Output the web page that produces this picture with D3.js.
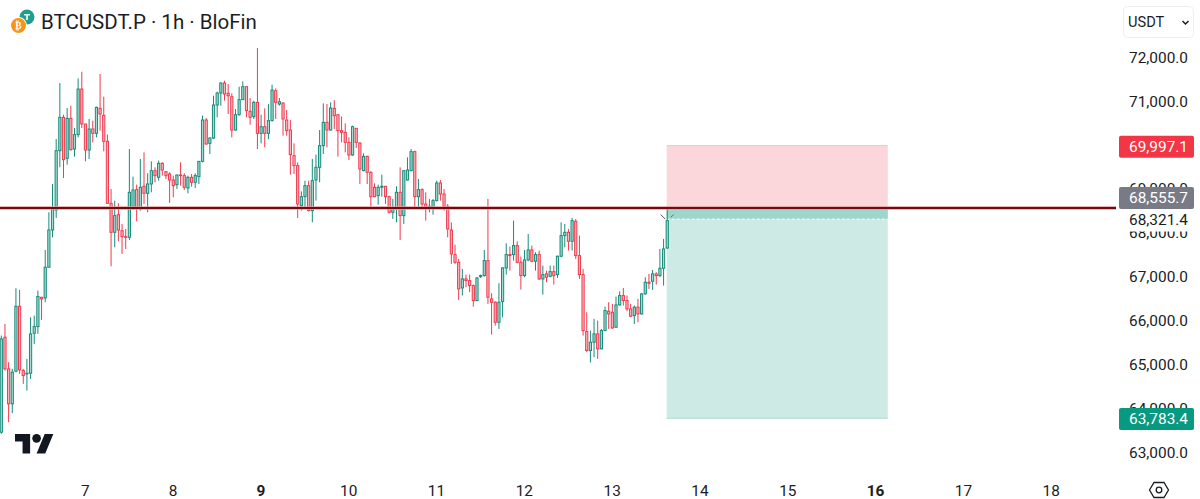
<!DOCTYPE html>
<html>
<head>
<meta charset="utf-8">
<script src="https://cdn.jsdelivr.net/npm/d3@7"></script>
<style>
  html, body { margin: 0; padding: 0; background: #fff; overflow: hidden; }
  svg { display: block; font-family: Roboto, sans-serif; }
</style>
</head>
<body>
<div id="chart"></div>
<script>
// hourly candles, oldest first
const opens = [63465,65629,64908,64111,64855,66335,64870,64794,64809,65720,65872,66540,66525,67224,68074,68530,69881,70641,69707,70618,69919,70246,71286,70489,69897,70375,70276,70846,70686,70094,68682,68021,68423,68059,67922,67907,68553,68993,68553,69069,68909,69122,69426,69274,69593,69403,69350,69213,69107,69327,69312,69031,69274,69160,69289,69638,70580,70048,70170,70922,71195,71423,71187,
71111,70352,70701,71043,71339,70777,70656,70982,70276,70428,70276,70565,71248,70944,70967,70580,70352,69767,69540,68628,68833,69084,68515,69213,69502,69995,70527,70352,70846,70701,70337,70299,70071,69783,70390,70056,69426,69752,69388,69046,68856,69046,69069,68833,68477,68553,68932,68401,69213,69426,69859,68833,68993,68666,68568,68590,68742,69145,68894,68613,
68074,67513,67338,66753,66958,66920,66806,66465,67011,67034,67376,66503,66427,65971,66442,67209,67513,67513,67718,67338,67034,67391,67619,67361,67513,66958,67072,67019,67125,67057,67475,67945,68021,67816,68272,67490,67057,65759,65326,65516,65705,65364,65781,66222,66199,65857,66366,66579,66465,66275,66123,66313,66161,66617,66882,66905,67072,67034,67201,67664];
const highs = [65667,65933,65060,64908,66745,66707,64908,65136,66085,66123,66692,66540,67619,68477,69122,70147,71423,70701,70853,70906,70398,71529,71681,70489,70603,70565,70884,71628,71111,70246,69008,68742,68682,68211,68097,69919,69289,69107,69692,69843,69365,69638,69502,69654,69616,69411,69388,69312,69335,69616,69365,69312,69350,69365,69638,70679,70625,70185,71134,71225,71438,71476,71400,
71187,70830,71339,71461,71339,71081,71020,72220,70701,70846,70944,71385,71301,71081,70982,70808,70580,70048,69616,68955,69198,69198,69692,69790,70352,70960,70944,70982,71035,70701,70656,70504,70185,70451,70398,70071,69821,69767,69411,69137,69107,69335,69069,68856,68780,69069,69502,69426,69730,69919,69881,69236,69023,68932,68780,68780,69198,69213,69008,68666,
68249,67740,67414,67186,67057,67057,66829,66996,67057,67619,68781,66632,66450,66860,67224,67771,67695,68287,67816,67467,67619,67983,67718,67566,67604,67262,67148,67262,67262,67490,68249,68211,68097,68348,68325,67945,67186,66199,65781,66047,66009,65819,66328,66427,66389,66556,66677,66753,66579,66389,66351,66503,66632,66996,67072,67163,67110,67642,67869,68553];
const lows = [63427,64870,63693,63898,64832,64794,64566,64414,64680,65477,65705,66024,66426,67224,67907,68348,69502,69259,69562,69881,69745,70185,70398,69638,69692,70071,70185,70337,69866,68666,67247,67679,67816,67527,67641,67846,68553,68272,68515,68666,68477,68932,69160,69198,69312,69236,68689,68818,69008,69084,68985,68909,69061,69031,69122,69616,70018,69805,70147,70641,70906,71020,70717,
70185,70337,70679,71035,70641,70474,70603,69919,70048,69957,70147,70549,70603,70906,70223,70223,69335,69350,68348,68515,68590,68499,68249,68742,69160,69805,69957,70337,70375,69745,70071,69843,69669,69767,69942,69122,69411,69122,68590,68818,68651,68833,68666,68454,68325,68249,67846,68211,69198,69411,68553,68590,68553,68287,68477,68423,68727,68742,68515,67907,
67300,67300,66480,66579,66768,66655,66328,66450,66981,67011,66389,65690,65895,65819,66085,67057,67148,67376,67315,66715,66996,67361,67338,67148,66935,66601,66882,66996,66829,66981,67452,67680,67604,67604,67414,66958,65667,65288,65052,65174,65136,65356,65766,65819,65819,65842,66351,66351,66222,66085,65933,65971,66146,66601,66730,66708,66829,66996,66806,67642];
const closes = [65591,64908,64111,64832,66335,64885,64756,64809,65705,65872,66556,66502,67224,68074,68553,69881,70641,69676,70618,69904,70246,71286,70489,69897,70375,70276,70868,70717,70094,68682,68021,68401,68074,67922,67907,68932,68985,68568,69046,68909,69122,69426,69312,69593,69441,69312,69213,69084,69327,69312,69046,69274,69160,69312,69638,70580,70033,70170,70922,71195,71423,71172,71134,
70352,70701,71043,71339,70793,70641,70982,70276,70428,70276,70565,71263,70982,70997,70603,70337,69790,69540,68666,68833,69084,68515,69198,69502,69995,70527,70352,70853,70679,70337,70299,70071,69783,70428,70071,69464,69752,69388,68833,68833,69046,69069,68833,68477,68553,68932,68401,69426,69441,69859,68833,68993,68666,68606,68613,68742,69145,68894,68613,68097,
67528,67338,66730,66958,66920,66806,66465,66981,67034,67376,66541,66427,65971,66427,67209,67513,67490,67718,67338,67034,67391,67619,67361,67513,66958,67057,66996,67125,67034,67475,67945,68021,67816,68287,67490,67057,65781,65326,65516,65705,65364,65781,66237,66161,65842,66366,66579,66465,66275,66108,66313,66161,66617,66882,66860,67072,67034,67201,67642,68287];

const priceTicks = [72000,71000,70000,69000,68000,67000,66000,65000,64000,63000];
const dayLabels = [7,8,9,10,11,12,13,14,15,16,17,18];
const boldDays = [9,16];
const firstDayCandle = 23; // candle index of the "7" tick
const hoursPerDay = 24;

const horizontalLevel = 68575;
const stopPrice = 69997.1;
const entryPrice = 68555.7;
const lastPrice = 68321.4;
const targetPrice = 63783.4;
const positionStart = 182;
const positionEnd = 242.4;

const width = 1200, height = 499;
const paneRight = 1116;

const x = d3.scaleLinear().domain([0, 100]).range([1.3, 367.2]);
const y = d3.scaleLinear().domain([63000, 72000]).range([452.6, 57.7]);

const green = "#178b7a", greenFill = "#a3dcd2";
const red = "#ee3a4e", redFill = "#fbb7be";
const text = "#1a1d26";

const candles = opens.map((o, i) => ({ i, o, h: highs[i], l: lows[i], c: closes[i] }));

const svg = d3.select("#chart").append("svg")
    .attr("width", width)
    .attr("height", height);

svg.append("rect").attr("width", width).attr("height", height).attr("fill", "#fff");

// long position box
const box = svg.append("g");
const boxX = x(positionStart) - 0.5;
const boxW = x(positionEnd) - x(positionStart);

box.append("rect")
    .attr("x", boxX).attr("y", y(stopPrice))
    .attr("width", boxW).attr("height", y(entryPrice) - y(stopPrice))
    .attr("fill", "#fbd6da");
box.append("rect")
    .attr("x", boxX).attr("y", y(entryPrice))
    .attr("width", boxW).attr("height", y(targetPrice) - y(entryPrice))
    .attr("fill", "#cdeae4");
box.append("rect")
    .attr("x", boxX).attr("y", y(entryPrice))
    .attr("width", boxW).attr("height", y(lastPrice) - y(entryPrice))
    .attr("fill", "#9dd6cd");
box.append("line")
    .attr("x1", boxX).attr("x2", boxX + boxW)
    .attr("y1", y(stopPrice)).attr("y2", y(stopPrice))
    .attr("stroke", "#f7c3c9");
box.append("line")
    .attr("x1", boxX).attr("x2", boxX + boxW)
    .attr("y1", y(targetPrice)).attr("y2", y(targetPrice))
    .attr("stroke", "#a9dcd2");
box.append("line")
    .attr("x1", boxX).attr("x2", boxX + boxW)
    .attr("y1", y(lastPrice)).attr("y2", y(lastPrice))
    .attr("stroke", "#fff")
    .attr("stroke-dasharray", "3 2");

// candles
const candle = svg.append("g").selectAll("g")
    .data(candles)
    .join("g")
    .attr("stroke", d => d.c >= d.o ? green : red);

candle.append("line")
    .attr("x1", d => x(d.i)).attr("x2", d => x(d.i))
    .attr("y1", d => y(d.h)).attr("y2", d => y(d.l));

candle.append("rect")
    .attr("x", d => x(d.i) - 1.1)
    .attr("width", 2.2)
    .attr("y", d => y(Math.max(d.o, d.c)))
    .attr("height", d => Math.max(0.6, Math.abs(y(d.o) - y(d.c))))
    .attr("fill", d => d.c >= d.o ? greenFill : redFill);

// small arrows next to the last candle
const lastX = x(positionStart), lastY = y(lastPrice);
svg.append("path")
    .attr("d", `M${lastX - 6.5},${lastY - 4.5}L${lastX - 2},${lastY}`)
    .attr("fill", "none")
    .attr("stroke", "#4b525e");
svg.append("path")
    .attr("d", `M${lastX + 3.5},${lastY - 2}L${lastX + 6.5},${lastY - 4.5}`)
    .attr("fill", "none")
    .attr("stroke", "#5f7f80");

// horizontal line
svg.append("line")
    .attr("x1", 0).attr("x2", paneRight)
    .attr("y1", y(horizontalLevel)).attr("y2", y(horizontalLevel))
    .attr("stroke", "#e39a9c").attr("stroke-width", 3.6);
svg.append("line")
    .attr("x1", 0).attr("x2", paneRight)
    .attr("y1", y(horizontalLevel)).attr("y2", y(horizontalLevel))
    .attr("stroke", "#730a10").attr("stroke-width", 2.2);

// price scale
const yAxis = d3.axisRight(y)
    .tickValues(priceTicks)
    .tickFormat(d3.format(",.1f"))
    .tickSize(0);

const yGroup = svg.append("g")
    .attr("transform", "translate(1188,-0.4)")
    .call(yAxis);
yGroup.select(".domain").remove();
yGroup.selectAll("text")
    .attr("x", 0)
    .attr("text-anchor", "end")
    .attr("font-family", "Roboto, sans-serif")
    .attr("font-size", 15.4)
    .attr("fill", text);

// time scale
const xAxis = d3.axisBottom(x)
    .tickValues(dayLabels.map((d, k) => firstDayCandle + k * hoursPerDay))
    .tickFormat((d, k) => dayLabels[k])
    .tickSize(0);

const xGroup = svg.append("g")
    .attr("transform", "translate(-0.7,482)")
    .call(xAxis);
xGroup.select(".domain").remove();
xGroup.selectAll("text")
    .attr("font-family", "Roboto, sans-serif")
    .attr("font-size", 15.4)
    .attr("font-weight", (d, k) => boldDays.includes(dayLabels[k]) ? 700 : 400)
    .attr("fill", text);

// price labels
const labels = [
  { value: lastPrice, row: 219.5, bg: "#fff", fg: text, h: 24 },
  { value: stopPrice, row: 146.8, bg: "#f23645", fg: "#fff", h: 22 },
  { value: entryPrice, row: 198, bg: "#787b86", fg: "#fff", h: 22 },
  { value: targetPrice, row: 419, bg: "#089981", fg: "#fff", h: 22 }
];

const label = svg.append("g").selectAll("g")
    .data(labels)
    .join("g")
    .attr("transform", d => `translate(0,${d.row})`);

label.append("rect")
    .attr("x", 1119).attr("y", d => -d.h / 2)
    .attr("width", 75).attr("height", d => d.h)
    .attr("rx", 2)
    .attr("fill", d => d.bg);

label.append("text")
    .attr("x", 1188).attr("dy", "0.35em")
    .attr("text-anchor", "end")
    .attr("font-size", 15.4)
    .attr("fill", d => d.fg)
    .text(d => d3.format(",.1f")(d.value));

// header
svg.append("circle").attr("cx", 27).attr("cy", 17).attr("r", 7.5).attr("fill", "#1f9e8c");
svg.append("path").attr("d", "M24,14H30V15.5H28V20H26V15.5H24Z").attr("fill", "#d7f0ea");
svg.append("circle").attr("cx", 18.5).attr("cy", 25.5).attr("r", 8.5).attr("fill", "#fff");
svg.append("circle").attr("cx", 18.5).attr("cy", 25.5).attr("r", 7.5).attr("fill", "#f7931a");
svg.append("text")
    .attr("x", 18.5).attr("y", 29)
    .attr("text-anchor", "middle")
    .attr("font-family", "DejaVu Sans")
    .attr("font-size", 9.5)
    .attr("font-weight", 700)
    .attr("fill", "#fff")
    .text("₿");

svg.append("text")
    .attr("x", 41).attr("y", 29)
    .attr("font-size", 20.5)
    .attr("fill", text)
    .text("BTCUSDT.P · 1h · BloFin");

// currency button
svg.append("rect")
    .attr("x", 1123.5).attr("y", 6.5)
    .attr("width", 70).attr("height", 31)
    .attr("rx", 4)
    .attr("fill", "#fff")
    .attr("stroke", "#eceef1");
svg.append("text")
    .attr("x", 1128).attr("y", 27)
    .attr("font-size", 14.6)
    .attr("fill", text)
    .text("USDT");
svg.append("path")
    .attr("d", "M1182.5,21L1185.5,24L1188.5,21")
    .attr("fill", "none")
    .attr("stroke", text)
    .attr("stroke-width", 1.5);

// tradingview logo
svg.append("g")
    .attr("transform", "translate(15,429.7) scale(1.08)")
    .attr("fill", "#131722")
    .call(g => {
      g.append("path").attr("d", "M14 22H7V11H0V4h14v18zM28 22h-8l7.5-18h8L28 22z");
      g.append("circle").attr("cx", 20).attr("cy", 8).attr("r", 4);
    });

// settings icon
svg.append("path")
    .attr("d", "M1154,482.5H1164L1168.5,490L1164,497.5H1154L1149.5,490Z")
    .attr("fill", "none")
    .attr("stroke", text)
    .attr("stroke-width", 1.3);
svg.append("circle")
    .attr("cx", 1159).attr("cy", 490).attr("r", 2.8)
    .attr("fill", "none")
    .attr("stroke", text)
    .attr("stroke-width", 1.3);
</script>
</body>
</html>
